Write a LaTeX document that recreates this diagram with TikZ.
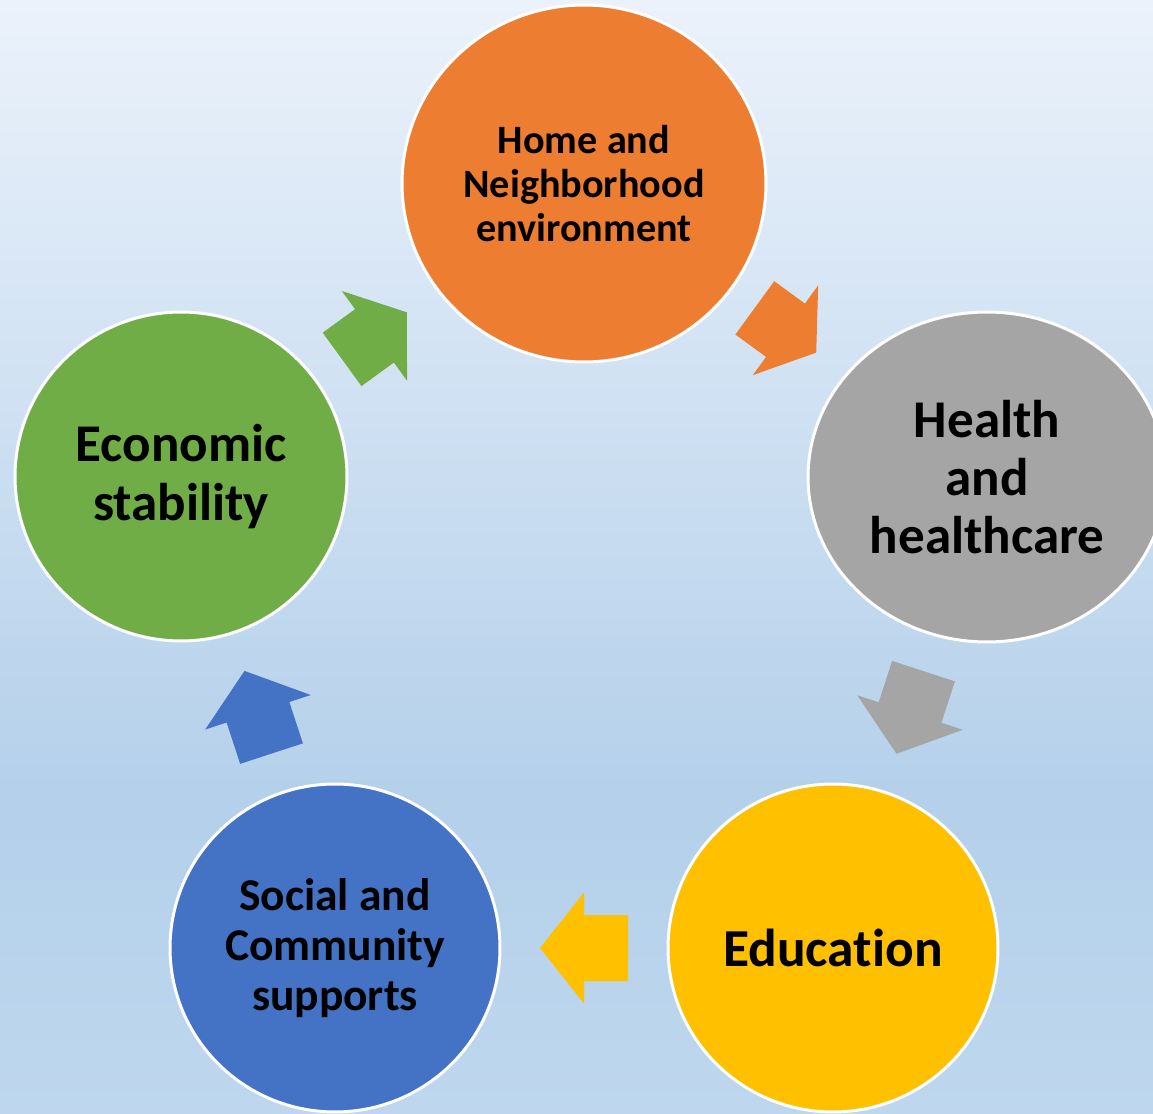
\documentclass[tikz,border=0pt]{standalone}
\usepackage{fontspec}
\setmainfont{Carlito}[Ligatures=NoCommon]
\usetikzlibrary{shapes.geometric}

\definecolor{orangeC}{HTML}{ED7D31}
\definecolor{grayC}{HTML}{A5A5A5}
\definecolor{yellowC}{HTML}{FFC000}
\definecolor{blueC}{HTML}{4472C4}
\definecolor{greenC}{HTML}{70AD47}
\definecolor{bgtop}{RGB}{235,242,251}
\definecolor{bgmid}{RGB}{180,208,234}
\definecolor{bgbot}{RGB}{190,215,238}

\pgfdeclareverticalshading{bgshade}{100bp}{color(0bp)=(bgbot); color(25bp)=(bgbot); color(39bp)=(bgmid); color(75bp)=(bgtop); color(100bp)=(bgtop)}

\tikzset{
  factor/.style={ellipse, draw=white, line width=1.7pt, inner sep=0pt, align=center, font=\bfseries},
  pics/cyclearrow/.style 2 args={code={
    \fill[#1] (-#2/2,-33) -- (0,-33) -- (0,-55.5) -- (#2/2,0) -- (0,55.5) -- (0,33) -- (-#2/2,33) -- cycle;
  }}
}

\begin{document}
\begin{tikzpicture}[x=0.02cm, y=0.02cm]
  \useasboundingbox (0,0) rectangle (1153,1113);
  \shade[shading=bgshade] (0,0) rectangle (1153,1113);

  % circles
  \node[factor, fill=orangeC, minimum width=7.28cm, minimum height=7.14cm,
        font=\bfseries\fontsize{22.9}{25}\selectfont] (home) at (584,929.5)
        {Home and\\Neighborhood\\environment};
  \node[factor, fill=grayC, minimum width=7.16cm, minimum height=6.6cm,
        font=\bfseries\fontsize{30.2}{32.9}\selectfont] (health) at (987,636)
        {Health\\and\\healthcare};
  \node[factor, fill=yellowC, minimum width=6.6cm, minimum height=6.56cm,
        font=\bfseries\fontsize{30.4}{34}\selectfont] (educ) at (833,165)
        {Education};
  \node[factor, fill=blueC, minimum width=6.6cm, minimum height=6.56cm,
        font=\bfseries\fontsize{25.9}{28.3}\selectfont] (social) at (335,165)
        {Social and\\Community\\supports};
  \node[factor, fill=greenC, minimum width=6.64cm, minimum height=6.58cm,
        font=\bfseries\fontsize{30.2}{33.5}\selectfont] (econ) at (181,636.5)
        {Economic\\stability};

  % arrows
  \path (home.center) -- (health.center) pic[pos=0.5, sloped, allow upside down] {cyclearrow={orangeC}{76}};
  \path (health.center) -- (educ.center) pic[pos=0.5, sloped, allow upside down] {cyclearrow={grayC}{87}};
  \path (educ.center) -- (social.center) pic[pos=0.5, sloped, allow upside down] {cyclearrow={yellowC}{88}};
  \path (social.center) -- (econ.center) pic[pos=0.5, sloped, allow upside down] {cyclearrow={blueC}{87}};
  \path (econ.center) -- (home.center) pic[pos=0.48, sloped, allow upside down] {cyclearrow={greenC}{80}};
\end{tikzpicture}
\end{document}
